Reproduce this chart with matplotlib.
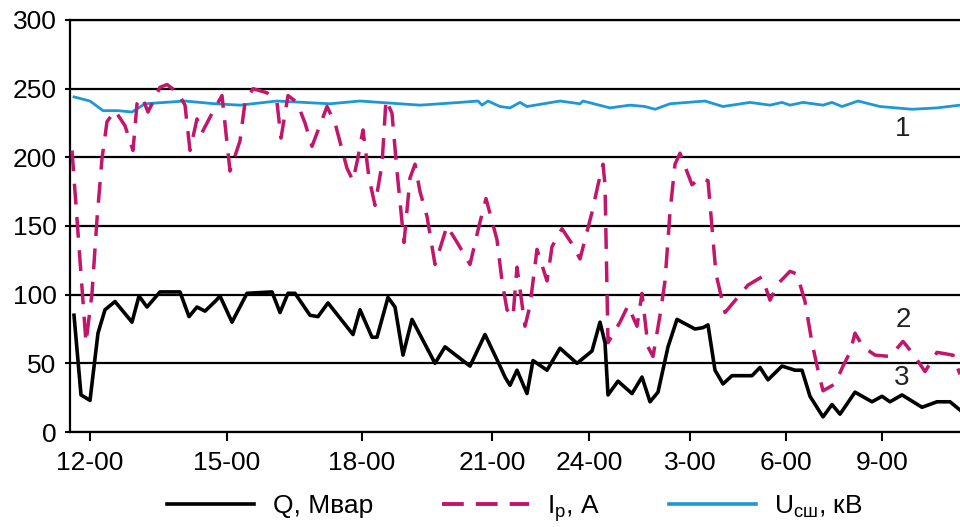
import matplotlib
matplotlib.use("Agg")
import matplotlib.pyplot as plt
from matplotlib.lines import Line2D

plt.rcParams['font.family'] = ['Liberation Sans', 'DejaVu Sans']
plt.rcParams['mathtext.fontset'] = 'custom'
plt.rcParams['mathtext.rm'] = 'Liberation Sans'

# x positions are in chart position units (time axis is non-uniform)
tick_pos = [20, 157, 292, 422, 519, 620, 716, 812]
tick_labels = ['12-00', '15-00', '18-00', '21-00', '24-00', '3-00', '6-00', '9-00']

q_x = [4, 11, 20, 28, 35, 45, 62, 69, 77, 90, 110, 119, 127, 135, 145, 150, 162, 177,
       202, 210, 218, 225, 240, 248, 258, 283, 290, 302, 307, 318, 325, 333, 342, 365,
       375, 400, 415, 430, 435, 440, 447, 457, 463, 477, 490, 507, 522, 530, 535, 538,
       548, 562, 572, 580, 588, 598, 607, 625, 633, 638, 645, 653, 662, 682, 690, 698,
       712, 725, 732, 740, 753, 762, 770, 785, 802, 812, 820, 832, 852, 867, 880, 890]
q_y = [85, 27, 23, 72, 89, 95, 80, 99, 91, 102, 102, 84, 91, 88, 95, 99, 80, 101,
       102, 87, 101, 101, 85, 84, 94, 71, 89, 69, 69, 98, 91, 56, 82, 50,
       62, 48, 71, 48, 40, 34, 45, 28, 52, 45, 61, 50, 59, 80, 65, 27,
       37, 28, 40, 22, 29, 62, 82, 75, 76, 78, 45, 35, 41, 41, 47, 38,
       48, 45, 45, 26, 11, 20, 13, 29, 22, 26, 22, 27, 18, 22, 22, 16]

ip_x = [2, 16, 22, 27, 32, 37, 45, 55, 63, 67, 72, 78, 90, 97, 108, 115, 120, 127, 132,
        142, 152, 160, 170, 175, 183, 197, 207, 211, 218, 227, 235, 242, 257, 265, 277,
        283, 288, 293, 299, 305, 312, 316, 322, 327, 334, 340, 345, 350, 357, 365, 377,
        388, 400, 409, 416, 427, 432, 437, 443, 447, 455, 460, 467, 477, 482, 492, 502,
        510, 522, 528, 533, 535, 538, 550, 558, 567, 572, 578, 583, 590, 595, 600, 605,
        610, 622, 630, 638, 646, 655, 670, 678, 692, 700, 708, 720, 727, 735, 742, 748,
        753, 765, 773, 780, 785, 793, 805, 820, 833, 843, 855, 867, 883, 890]
ip_y = [205, 65, 101, 155, 199, 226, 234, 223, 205, 239, 244, 233, 251, 253, 247, 238, 205,
        228, 218, 232, 245, 190, 212, 240, 250, 247, 240, 214, 245, 240, 225, 208, 237,
        225, 192, 183, 200, 220, 185, 165, 195, 242, 232, 190, 138, 185, 195, 175, 157,
        122, 150, 137, 122, 150, 170, 140, 110, 89, 84, 120, 77, 92, 133, 110, 135, 148,
        137, 126, 160, 180, 195, 180, 65, 80, 92, 77, 101, 62, 55, 85, 110, 160, 195, 203,
        180, 185, 183, 115, 87, 100, 107, 113, 96, 108, 117, 115, 95, 65, 45, 30, 35, 48,
        58, 72, 62, 56, 55, 66, 57, 44, 58, 56, 42]

u_x = [4, 20, 33, 48, 62, 75, 95, 115, 145, 170, 207, 260, 290, 310, 350, 390, 408, 412,
       418, 430, 440, 450, 457, 490, 510, 513, 540, 560, 575, 585, 600, 635, 653, 680,
       690, 700, 712, 720, 733, 753, 762, 772, 788, 810, 842, 867, 890]
u_y = [244, 241, 234, 234, 233, 239, 240, 241, 239, 238, 241, 239, 241, 240, 238, 240, 241,
       238, 241, 237, 236, 240, 237, 241, 239, 241, 236, 238, 237, 235, 239, 241, 237,
       240, 239, 238, 240, 238, 240, 238, 240, 237, 241, 237, 235, 236, 238]

curve_labels = ['1', '2', '3']
label_x = [833, 833, 832]
label_y = [220.6, 81.5, 39.3]

MAGENTA = '#c4156c'
BLUE = '#1c98d6'

fig = plt.figure(figsize=(9.6, 5.27), dpi=100)
ax = fig.add_axes([70 / 960, 1 - 432 / 527, 890 / 960, 412 / 527])

ax.set_xlim(0, 890)
ax.set_ylim(0, 300)
ax.set_yticks(range(0, 301, 50))
ax.yaxis.grid(True, color='black', lw=1.6)
ax.set_axisbelow(True)

ax.plot(u_x, u_y, color=BLUE, lw=2.0, zorder=3)
ax.plot(ip_x, ip_y, color=MAGENTA, lw=2.5, dashes=(6.0, 3.6), zorder=4)
ax.plot(q_x, q_y, color='black', lw=2.6, zorder=5)

for t, lx, ly in zip(curve_labels, label_x, label_y):
    ax.text(lx, ly, t, ha='center', va='center', fontsize=20, color='#222222', zorder=6)

ax.set_xticks(tick_pos)
ax.set_xticklabels(tick_labels)
ax.tick_params(axis='x', length=6.5, width=1.5, pad=7, labelsize=19, direction='out')
ax.tick_params(axis='y', length=3.6, width=1.5, pad=6, labelsize=19, direction='out')

for s in ['left', 'bottom', 'top']:
    ax.spines[s].set_color('black')
    ax.spines[s].set_linewidth(1.6)
ax.spines['right'].set_visible(False)

handles = [
    Line2D([], [], color='black', lw=2.6),
    Line2D([], [], color=MAGENTA, lw=2.8, dashes=(5.6, 3.1)),
    Line2D([], [], color=BLUE, lw=2.6),
]
labels = ['Q, Мвар', r'I$_\mathregular{р}$, А', r'U$_\mathregular{сш}$, кВ']
fig.legend(handles, labels, ncol=3, loc='center', bbox_to_anchor=(515 / 960, 1 - 508 / 527),
           frameon=False, fontsize=19, handlelength=3.3, handletextpad=0.7,
           columnspacing=2.6)

fig.savefig('out.png', dpi=100)
